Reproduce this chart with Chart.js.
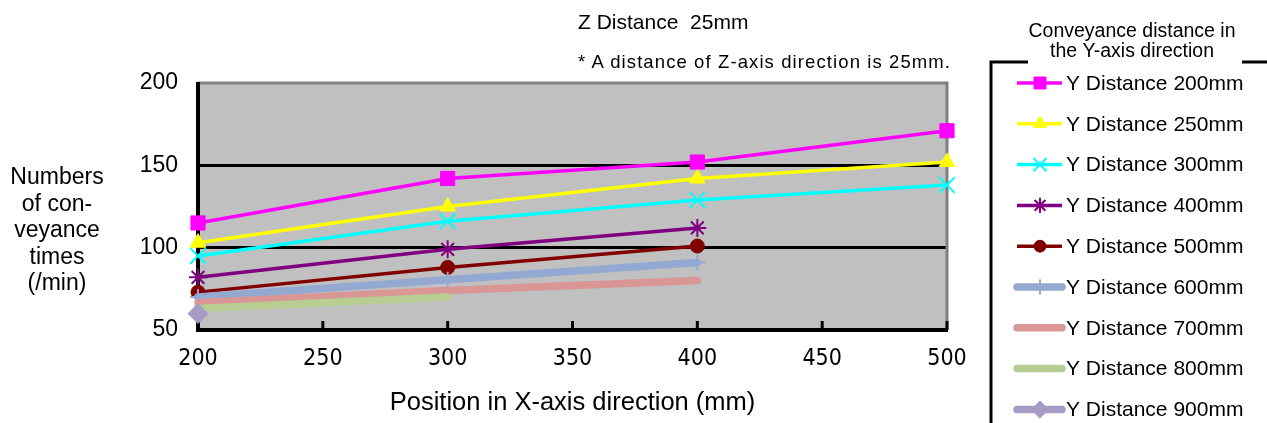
<!DOCTYPE html>
<html>
<head>
<meta charset="utf-8">
<script src="https://cdn.jsdelivr.net/npm/chart.js@4.4.1/dist/chart.umd.min.js"></script>
<style>
  body { margin: 0; background: #fff; font-family: "Liberation Sans", Arial, sans-serif; }
  #wrap { position: relative; width: 1267px; height: 423px; }
  .txt { position: absolute; color: #000; white-space: nowrap; }
</style>
</head>
<body>
<div id="wrap">
  <canvas id="myChart" width="1267" height="423"></canvas>
  <div class="txt" style="left:578px; top:10px; font-size:21px;">Z Distance&nbsp; 25mm</div>
  <div class="txt" style="left:578px; top:51px; font-size:18.5px; letter-spacing:1.1px;">* A distance of Z-axis direction is 25mm.</div>
  <div class="txt" style="left:0; width:114px; top:163px; font-size:23px; line-height:26.5px; text-align:center;">Numbers<br>of con-<br>veyance<br>times<br>(/min)</div>
</div>
<script>
// positions along X (mm)
const x_positions = [200, 300, 400, 500];

// conveyance times per minute, one array per Y distance
const y_200 = [115, 142, 152, 171];
const y_250 = [103, 125, 142, 152];
const y_300 = [95, 116, 129, 138];
const y_400 = [82, 99, 112];
const y_500 = [73, 88, 101];
const y_600 = [70, 80.5, 91];
const y_700 = [66.5, 74, 80];
const y_800 = [63, 70];
const y_900 = [60];

const series_labels = [
    'Y Distance 200mm', 'Y Distance 250mm', 'Y Distance 300mm',
    'Y Distance 400mm', 'Y Distance 500mm', 'Y Distance 600mm',
    'Y Distance 700mm', 'Y Distance 800mm', 'Y Distance 900mm'
];
const legend_title = ['Conveyance distance in', 'the Y-axis direction'];
const x_ticks = [200, 250, 300, 350, 400, 450, 500];
const y_ticks = [50, 100, 150, 200];

function pts(vals) {
    return vals.map((v, i) => ({ x: x_positions[i], y: v }));
}

function line(idx, vals, color, width, style, radius, pbw) {
    return {
        label: series_labels[idx],
        data: pts(vals),
        order: -idx,            // later series drawn on top
        borderColor: color,
        backgroundColor: color,
        borderWidth: width,
        borderCapStyle: width > 5 ? 'round' : 'butt',
        pointStyle: style,
        pointRadius: radius,
        pointHoverRadius: radius,
        pointBorderWidth: pbw,
        clip: false
    };
}

const datasets = [
    line(0, y_200, '#ff00ff', 3.5, 'rect', 10, 1),
    line(1, y_250, '#ffff00', 3.5, 'triangle', 9, 1),
    line(2, y_300, '#00ffff', 3.5, 'crossRot', 11, 2),
    line(3, y_400, '#800080', 3.5, 'star', 9, 2),
    line(4, y_500, '#800000', 3.5, 'circle', 7, 1),
    line(5, y_600, '#93a9d2', 7.5, 'cross', 8, 2),
    line(6, y_700, '#d99694', 7.5, 'circle', 0, 0),
    line(7, y_800, '#b7cd92', 7.5, 'circle', 0, 0),
    line(8, y_900, '#a69bc4', 7.5, 'rectRot', 10, 1)
];

const plotFrame = {
    id: 'plotFrame',
    beforeDraw(chart) {
        const { ctx, chartArea: a } = chart;
        ctx.save();
        ctx.fillStyle = '#c0c0c0';
        ctx.fillRect(a.left, a.top, a.right - a.left, a.bottom - a.top);
        ctx.restore();
    },
    beforeDatasetsDraw(chart) {
        const { ctx, chartArea: a, scales } = chart;
        ctx.save();
        ctx.strokeStyle = '#808080';
        ctx.lineWidth = 3;
        ctx.beginPath();
        ctx.moveTo(a.left, a.top);
        ctx.lineTo(a.right, a.top);
        ctx.lineTo(a.right, a.bottom);
        ctx.stroke();
        ctx.strokeStyle = '#000';
        ctx.lineWidth = 4;
        ctx.beginPath();
        ctx.moveTo(a.left, a.top - 1);
        ctx.lineTo(a.left, a.bottom);
        ctx.lineTo(a.right + 1, a.bottom);
        ctx.stroke();
        // inward tick marks on the x axis
        ctx.lineWidth = 3;
        scales.x.ticks.forEach(t => {
            const px = scales.x.getPixelForValue(t.value);
            ctx.beginPath();
            ctx.moveTo(px, a.bottom);
            ctx.lineTo(px, a.bottom - 9);
            ctx.stroke();
        });
        ctx.restore();
    }
};

const sideLegend = {
    id: 'sideLegend',
    afterDraw(chart) {
        const ctx = chart.ctx;
        ctx.save();
        ctx.strokeStyle = '#000';
        ctx.lineWidth = 3;
        ctx.beginPath();
        ctx.moveTo(1028, 62);
        ctx.lineTo(991, 62);
        ctx.lineTo(991, 430);
        ctx.stroke();
        ctx.beginPath();
        ctx.moveTo(1242, 62);
        ctx.lineTo(1270, 62);
        ctx.stroke();

        ctx.fillStyle = '#000';
        ctx.textAlign = 'center';
        ctx.textBaseline = 'middle';
        ctx.font = '19.5px "Liberation Sans", Arial, sans-serif';
        legend_title.forEach((t, i) => ctx.fillText(t, 1132, 32 + i * 20));

        ctx.textAlign = 'left';
        ctx.font = '21px "Liberation Sans", Arial, sans-serif';
        chart.data.datasets.forEach((ds, i) => {
            const y = 83 + i * 40.8;
            ctx.strokeStyle = ds.borderColor;
            ctx.lineWidth = ds.borderWidth;
            ctx.lineCap = ds.borderWidth > 5 ? 'round' : 'butt';
            ctx.beginPath();
            ctx.moveTo(1017, y);
            ctx.lineTo(1062, y);
            ctx.stroke();
            if (ds.pointRadius > 0) {
                ctx.fillStyle = ds.backgroundColor;
                ctx.lineWidth = ds.pointBorderWidth;
                Chart.helpers.drawPoint(ctx, {
                    pointStyle: ds.pointStyle,
                    radius: ds.pointRadius * 0.85,
                    borderWidth: ds.pointBorderWidth,
                    rotation: 0
                }, 1040, y);
            }
            ctx.fillStyle = '#000';
            ctx.fillText(ds.label, 1066, y + 1);
        });
        ctx.restore();
    }
};

var ctx = document.getElementById('myChart').getContext('2d');
var myChart = new Chart(ctx, {
    type: 'line',
    data: { datasets: datasets },
    plugins: [plotFrame, sideLegend],
    options: {
        responsive: false,
        animation: false,
        events: [],
        layout: { padding: { top: 83, right: 320, left: 0, bottom: 0 } },
        plugins: {
            legend: { display: false },
            tooltip: { enabled: false }
        },
        scales: {
            x: {
                type: 'linear',
                min: x_ticks[0],
                max: x_ticks[x_ticks.length - 1],
                afterBuildTicks: s => { s.ticks = x_ticks.map(v => ({ value: v })); },
                afterFit: s => { s.height = 93; },
                grid: { drawOnChartArea: false, drawTicks: false },
                border: { display: false },
                ticks: {
                    padding: 15,
                    color: '#000',
                    font: { family: '"Liberation Sans Narrow", "DejaVu Sans Condensed", sans-serif', size: 23 }
                },
                title: {
                    display: true,
                    text: 'Position in X-axis direction (mm)',
                    color: '#000',
                    padding: { top: 0, bottom: 5 },
                    font: { family: '"Liberation Sans", Arial, sans-serif', size: 25.5 }
                }
            },
            y: {
                min: y_ticks[0],
                max: y_ticks[y_ticks.length - 1],
                afterBuildTicks: s => { s.ticks = y_ticks.map(v => ({ value: v })); },
                afterFit: s => { s.width = 198; },
                grid: {
                    drawTicks: false,
                    lineWidth: 3,
                    color: c => (c.tick && (c.tick.value === 200 || c.tick.value === 50)) ? 'rgba(0,0,0,0)' : '#000'
                },
                border: { display: false },
                ticks: {
                    padding: 20,
                    color: '#000',
                    font: { family: '"Liberation Sans", Arial, sans-serif', size: 23 }
                }
            }
        }
    }
});
</script>
</body>
</html>
